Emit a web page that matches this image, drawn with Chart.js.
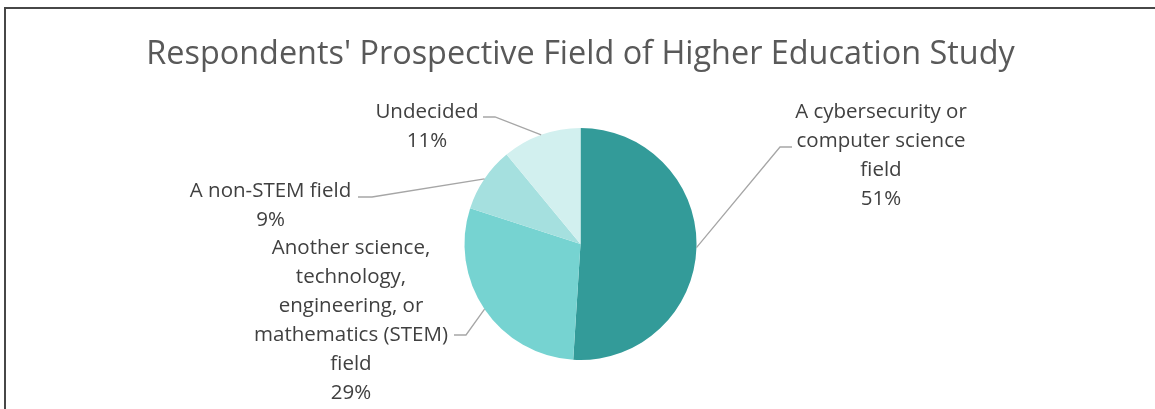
<!DOCTYPE html>
<html>
<head>
<meta charset="utf-8">
<script src="https://cdn.jsdelivr.net/npm/chart.js@4.4.1/dist/chart.umd.min.js"></script>
<style>
  html, body { margin: 0; padding: 0; background: #fff; overflow: hidden; }
  #wrap { position: relative; width: 1155px; height: 409px; }
  #frame { position: absolute; left: 4px; top: 7px; width: 1160px; height: 420px; border: 2px solid #474747; box-sizing: border-box; }
  canvas { position: absolute; left: 0; top: 0; }
</style>
</head>
<body>
<div id="wrap">
  <div id="frame"></div>
  <canvas id="myChart" width="1155" height="409"></canvas>
</div>
<script>
// Slices go clockwise from 12 o'clock
const categories = [
  ['A cybersecurity or', 'computer science', 'field'],
  ['Another science,', 'technology,', 'engineering, or', 'mathematics (STEM)', 'field'],
  ['A non-STEM field'],
  ['Undecided']
];
const percents = [51, 29, 9, 11];
const sliceColors = ['#339b99', '#76d3d1', '#a5e0df', '#d2f0ef'];

// where each callout sits, relative to the pie centre
const callouts = [
  { elbow: [199.5, -97], end: [211.5, -97], text: [300.5, -132] },
  { elbow: [-114.5, 91], end: [-126.5, 91], text: [-229.5, 4] },
  { elbow: [-208.5, -47], end: [-222.5, -47], text: [-310, -53] },
  { elbow: [-85.5, -127], end: [-97.5, -127], text: [-153.5, -132] }
];

const calloutPlugin = {
  id: 'callouts',
  afterDatasetsDraw(chart) {
    const ctx = chart.ctx;
    const arcs = chart.getDatasetMeta(0).data;
    ctx.save();
    arcs.forEach((arc, i) => {
      const p = arc.getProps(['x', 'y', 'startAngle', 'endAngle', 'outerRadius'], true);
      const mid = (p.startAngle + p.endAngle) / 2;
      const ax = p.x + Math.cos(mid) * p.outerRadius;
      const ay = p.y + Math.sin(mid) * p.outerRadius;
      const c = callouts[i];
      ctx.strokeStyle = '#a6a6a6';
      ctx.lineWidth = 1.3;
      ctx.beginPath();
      ctx.moveTo(ax, ay);
      ctx.lineTo(p.x + c.elbow[0], p.y + c.elbow[1]);
      ctx.lineTo(p.x + c.end[0], p.y + c.end[1]);
      ctx.stroke();

      const lines = categories[i].concat([percents[i] + '%']);
      ctx.fillStyle = '#404040';
      ctx.font = '20.5px "Open Sans"';
      ctx.textAlign = 'center';
      ctx.textBaseline = 'middle';
      lines.forEach((t, k) => {
        ctx.fillText(t, p.x + c.text[0], p.y + c.text[1] + k * 29);
      });
    });
    ctx.restore();
  }
};

const ctx = document.getElementById('myChart');

const myPieChart = new Chart(ctx, {
  type: 'pie',
  data: {
    labels: categories.map(l => l.join(' ')),
    datasets: [{
      data: percents,
      backgroundColor: sliceColors,
      borderWidth: 0
    }]
  },
  options: {
    responsive: false,
    animation: false,
    layout: { padding: { top: 0, bottom: 49, left: 6, right: 0 } },
    plugins: {
      legend: { display: false },
      tooltip: { enabled: false },
      title: {
        display: true,
        text: "Respondents' Prospective Field of Higher Education Study",
        color: '#595959',
        font: { family: 'Open Sans', size: 32.4, weight: 'normal', lineHeight: 1.2 },
        padding: { top: 35, bottom: 54.1 }
      }
    }
  },
  plugins: [calloutPlugin]
});
</script>
</body>
</html>
